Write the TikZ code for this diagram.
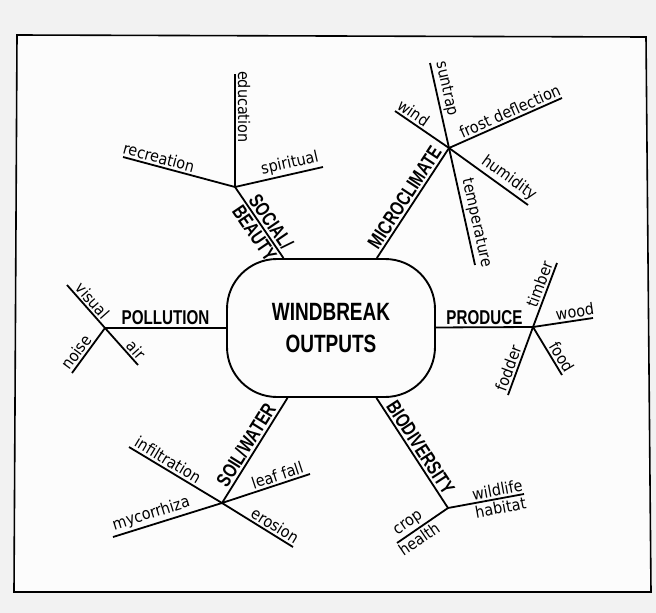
\documentclass[tikz,border=0pt]{standalone}
\usepackage{fontspec}
\setmainfont{DejaVu Sans Condensed}
\newfontfamily\capsfont{Liberation Sans}[FakeStretch=0.76]
\usetikzlibrary{calc}

\begin{document}
\begin{tikzpicture}[x=1pt,y=-1pt,line width=1.8pt,
  hubbox/.style={draw,line width=1.9pt,rounded corners=50pt,minimum width=208pt,
    minimum height=138pt,align=center,font=\capsfont\bfseries\fontsize{25}{32}\selectfont},
  twig/.style={sloped,above,allow upside down,inner sep=2pt,font=\fontsize{16}{16}\selectfont},
  twigb/.style={twig,below},
  limb/.style={twig,font=\capsfont\bfseries\fontsize{20}{20}\selectfont},
  limbb/.style={limb,below}]
  \useasboundingbox (0,0) rectangle (656,613);
  \fill[black!5] (0,0) rectangle (656,613);
  % Frame
  \filldraw[fill=black!1,line width=1.6pt] (17,35) -- (646,37) -- (651,592) -- (14,592) -- cycle;
  % Centre
  \node[hubbox] (hub) at (331,328) {WINDBREAK\\OUTPUTS};
  % Junctions
  \coordinate (jPol) at (105,328);
  \coordinate (jPro) at (533,327);
  \coordinate (jSoc) at (235,187);
  \coordinate (jMic) at (449,148);
  \coordinate (jSoil) at (222,503);
  \coordinate (jBio) at (448,508);
  % Branch ends
  \coordinate (eVis) at (67,285);
  \coordinate (eAir) at (138,365);
  \coordinate (eNoi) at (72,373);
  \coordinate (eTim) at (557,263);
  \coordinate (eFod) at (508,395);
  \coordinate (eWoo) at (593,318);
  \coordinate (eFoo) at (562,375);
  \coordinate (eEdu) at (235,74);
  \coordinate (eRec) at (123,157);
  \coordinate (eSpi) at (323,167);
  \coordinate (eSun) at (430,63);
  \coordinate (eTem) at (475,265);
  \coordinate (eWin) at (395,111);
  \coordinate (eHum) at (528,205);
  \coordinate (eFro) at (562,98);
  \coordinate (eInf) at (129,447);
  \coordinate (eEro) at (293,547);
  \coordinate (eLea) at (310,474);
  \coordinate (eMyc) at (113,537);
  \coordinate (eWil) at (524,494);
  \coordinate (eCro) at (397,543);
  % Main limbs
  \draw (jPol) -- (hub) node[limb,pos=0.5] (lPol) {POLLUTION};
  \draw (hub) -- (jPro) node[limb,pos=0.5] (lPro) {PRODUCE};
  \draw (jSoc) -- (hub) node[limb,pos=0.57] (lSoc) {SOCIAL/} node[limbb,pos=0.57] (lBea) {BEAUTY};
  \draw (hub) -- (jMic) node[limb,pos=0.5] (lMic) {MICROCLIMATE};
  \draw (jSoil) -- (hub) node[limb,pos=0.5] (lSoil) {SOIL/WATER};
  \draw (hub) -- (jBio) node[limb,pos=0.5] (lBio) {BIODIVERSITY};
  % Pollution
  \draw (eVis) -- (jPol) node[twig,pos=0.5] (tVis) {visual};
  \draw (jPol) -- (eAir) node[twig,pos=0.75] (tAir) {air};
  \draw (eNoi) -- (jPol) node[twig,pos=0.35] (tNoi) {noise};
  % Produce
  \draw (jPro) -- (eTim) node[twig,pos=0.62] (tTim) {timber};
  \draw (eFod) -- (jPro) node[twig,pos=0.35] (tFod) {fodder};
  \draw (jPro) -- (eWoo) node[twig,pos=0.72] (tWoo) {wood};
  \draw (jPro) -- (eFoo) node[twig,pos=0.72] (tFoo) {food};
  % Social / beauty
  \draw (eEdu) -- (jSoc) node[twig,pos=0.29] (tEdu) {education};
  \draw (eRec) -- (jSoc) node[twig,pos=0.3] (tRec) {recreation};
  \draw (jSoc) -- (eSpi) node[twig,pos=0.65] (tSpi) {spiritual};
  % Microclimate
  \draw (eSun) -- (jMic) node[twig,pos=0.33] (tSun) {suntrap};
  \draw (jMic) -- (eTem) node[twig,pos=0.66] (tTem) {temperature};
  \draw (eWin) -- (jMic) node[twig,pos=0.25] (tWin) {wind};
  \draw (jMic) -- (eHum) node[twig,pos=0.68] (tHum) {humidity};
  \draw (jMic) -- (eFro) node[twig,pos=0.57] (tFro) {frost deflection};
  % Soil / water
  \draw (eInf) -- (jSoil) node[twig,pos=0.37] (tInf) {infiltration};
  \draw (jSoil) -- (eEro) node[twig,pos=0.68] (tEro) {erosion};
  \draw (jSoil) -- (eLea) node[twig,pos=0.66] (tLea) {leaf fall};
  \draw (eMyc) -- (jSoil) node[twig,pos=0.38] (tMyc) {mycorrhiza};
  % Biodiversity
  \draw (jBio) -- (eWil) node[twig,pos=0.67] (tWil) {wildlife} node[twigb,pos=0.67] (tHab) {habitat};
  \draw (eCro) -- (jBio) node[twig,pos=0.33] (tCro) {crop} node[twigb,pos=0.33] (tHea) {health};
\end{tikzpicture}
\end{document}
